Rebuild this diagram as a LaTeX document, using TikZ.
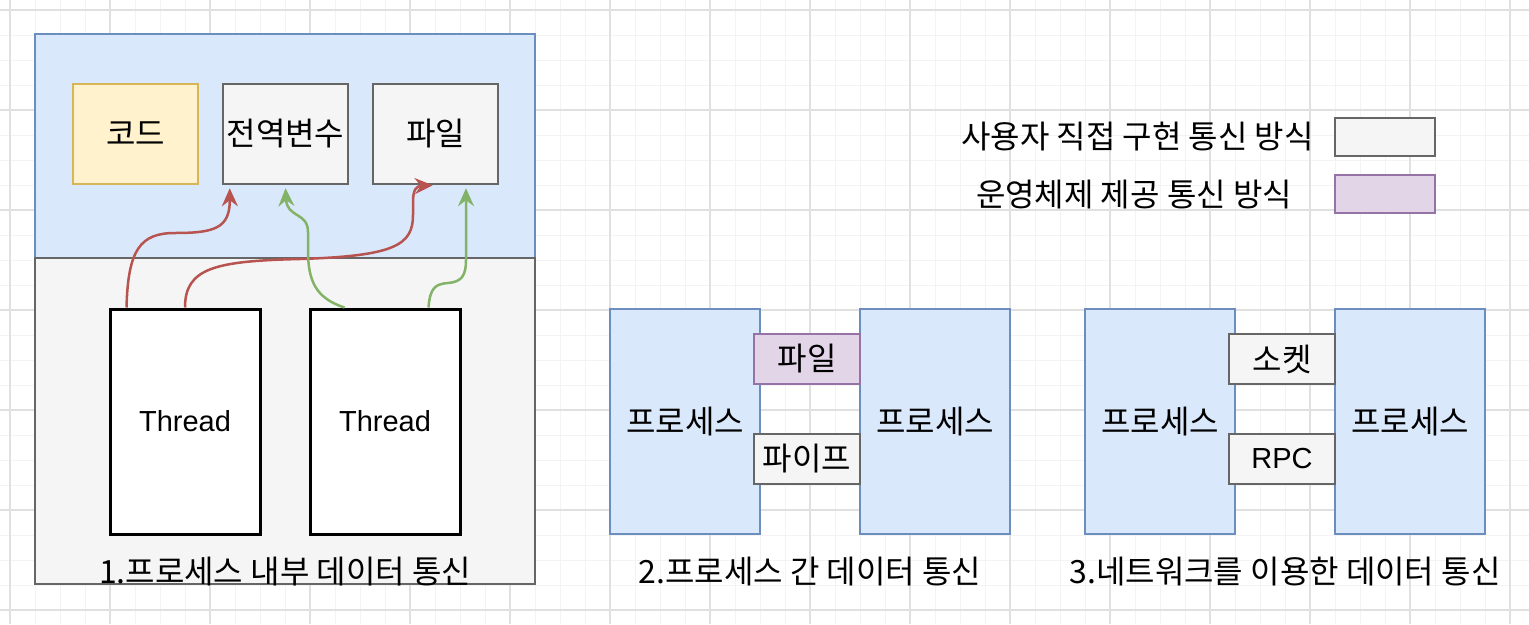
\documentclass[tikz,border=0pt]{standalone}
\usepackage{fontspec}
\setmainfont{Noto Sans CJK KR}
\newfontfamily\latfont{Liberation Sans}
\usetikzlibrary{arrows.meta,calc}
\definecolor{bluefill}{HTML}{DAE8FC}
\definecolor{bluestroke}{HTML}{6C8EBF}
\definecolor{grayfill}{HTML}{F5F5F5}
\definecolor{graystroke}{HTML}{666666}
\definecolor{yellowfill}{HTML}{FFF2CC}
\definecolor{yellowstroke}{HTML}{D6B656}
\definecolor{purplefill}{HTML}{E1D5E7}
\definecolor{purplestroke}{HTML}{9673A6}
\definecolor{redline}{HTML}{B85450}
\definecolor{greenline}{HTML}{82B366}
\definecolor{gridmajor}{HTML}{E0E0E0}
\definecolor{gridminor}{HTML}{F3F3F3}
\newcommand{\txt}{\fontsize{32}{36}\selectfont}
\newcommand{\lat}{\latfont\fontsize{29}{34}\selectfont}
\begin{document}
\begin{tikzpicture}[x=1pt,y=-1pt,
  base/.style={rectangle,inner sep=0pt,line width=2.5pt,font=\txt,text=black},
  bluebox/.style={base,draw=bluestroke,fill=bluefill},
  graybox/.style={base,draw=graystroke,fill=grayfill},
  yellowbox/.style={base,draw=yellowstroke,fill=yellowfill},
  purplebox/.style={base,draw=purplestroke,fill=purplefill},
  threadbox/.style={base,draw=black,fill=white,line width=3pt,minimum width=150pt,minimum height=225pt,font=\lat},
  procbox/.style={bluebox,minimum width=150pt,minimum height=225pt},
  memo/.style={minimum width=125pt,minimum height=100pt},
  chan/.style={minimum width=106pt,minimum height=50pt},
  legendbox/.style={minimum width=100pt,minimum height=38pt},
  label/.style={inner sep=0pt,font=\txt,text=black},
  redarrow/.style={draw=redline,line width=2.5pt,-{Stealth[length=18pt,width=16pt,inset=6pt]},fill=none},
  greenarrow/.style={draw=greenline,line width=2.5pt,-{Stealth[length=18pt,width=16pt,inset=6pt]},fill=none},
  minorgrid/.style={draw=gridminor,line width=1pt},
  majorgrid/.style={draw=gridmajor,line width=1.2pt}]
\useasboundingbox (0,0) rectangle (1529,624);
\fill[white] (0,0) rectangle (1529,624);
% grid
\foreach \x in {-15,10,...,1535} {\draw[minorgrid] (\x,0) -- (\x,624);}
\foreach \y in {-15,10,...,635} {\draw[minorgrid] (0,\y) -- (1529,\y);}
\foreach \x in {10,110,...,1510} {\draw[majorgrid] (\x,0) -- (\x,624);}
\foreach \y in {10,110,...,610} {\draw[majorgrid] (0,\y) -- (1529,\y);}

% section 1
\node[bluebox,minimum width=500pt,minimum height=224pt] (top) at (285,146) {};
\node[graybox,minimum width=500pt,minimum height=326pt] (bottom) at (285,421) {};
\node[yellowbox,memo] (code) at (135.5,134) {코드};
\node[graybox,memo] (gvar) at (285.5,134) {전역변수};
\node[graybox,memo] (file1) at (435.5,134) {파일};
\node[threadbox] (t1) at (185,421.5) {Thread};
\node[threadbox] (t2) at (385,421.5) {Thread};
\node[label] (lab1) at (285,572) {1.프로세스 내부 데이터 통신};

% arrows
\coordinate (r1s) at ($(t1.north west)+(18,0)$);
\coordinate (r1e) at ($(gvar.south west)+(8,3)$);
\draw[redarrow] (r1s) .. controls (128,250) and (140,233) .. (175,233)
  .. controls (215,233) and (230,228) .. (r1e);
\coordinate (r2s) at ($(t1.north)+(0,0)$);
\coordinate (r2e) at ($(file1.south west)+(61,0)$);
\draw[redarrow] (r2s) .. controls (185,268) and (215,261) .. (300,259)
  .. controls (395,256) and (413,245) .. (413,215) -- (413,202)
  .. controls (413,190) and (416,186) .. (r2e);
\coordinate (g1s) at ($(t2.north west)+(36,0)$);
\coordinate (g1e) at ($(gvar.south)+(0,3)$);
\draw[greenarrow] (g1s) .. controls (315,298) and (308,280) .. (308,250) -- (308,232)
  .. controls (308,212) and (287,218) .. (g1e);
\coordinate (g2s) at ($(t2.north west)+(120,0)$);
\coordinate (g2e) at ($(file1.south)+(30.5,3)$);
\draw[greenarrow] (g2s) .. controls (430,287) and (436,284) .. (448,283)
  .. controls (462,282) and (466,275) .. (466,260) -- (g2e);

% section 2
\node[procbox] (p2a) at (685,421.5) {프로세스};
\node[procbox] (p2b) at (935,421.5) {프로세스};
\node[purplebox,chan] (file2) at (807,359) {파일};
\node[graybox,chan] (pipe) at (807,459) {파이프};
\node[label] (lab2) at (810,572) {2.프로세스 간 데이터 통신};

% section 3
\node[procbox] (p3a) at (1160,421.5) {프로세스};
\node[procbox] (p3b) at (1410,421.5) {프로세스};
\node[graybox,chan] (sock) at (1282,359) {소켓};
\node[graybox,chan,font=\lat] (rpc) at (1282,459) {RPC};
\node[label] (lab3) at (1285,572) {3.네트워크를 이용한 데이터 통신};

% legend
\node[graybox,legendbox] (leg1) at (1385,137) {};
\node[purplebox,legendbox] (leg2) at (1385,194) {};
\node[label,anchor=east] (legt1) at (1314,137) {사용자 직접 구현 통신 방식};
\node[label] (legt2) at (1134,195) {운영체제 제공 통신 방식};
\end{tikzpicture}
\end{document}
